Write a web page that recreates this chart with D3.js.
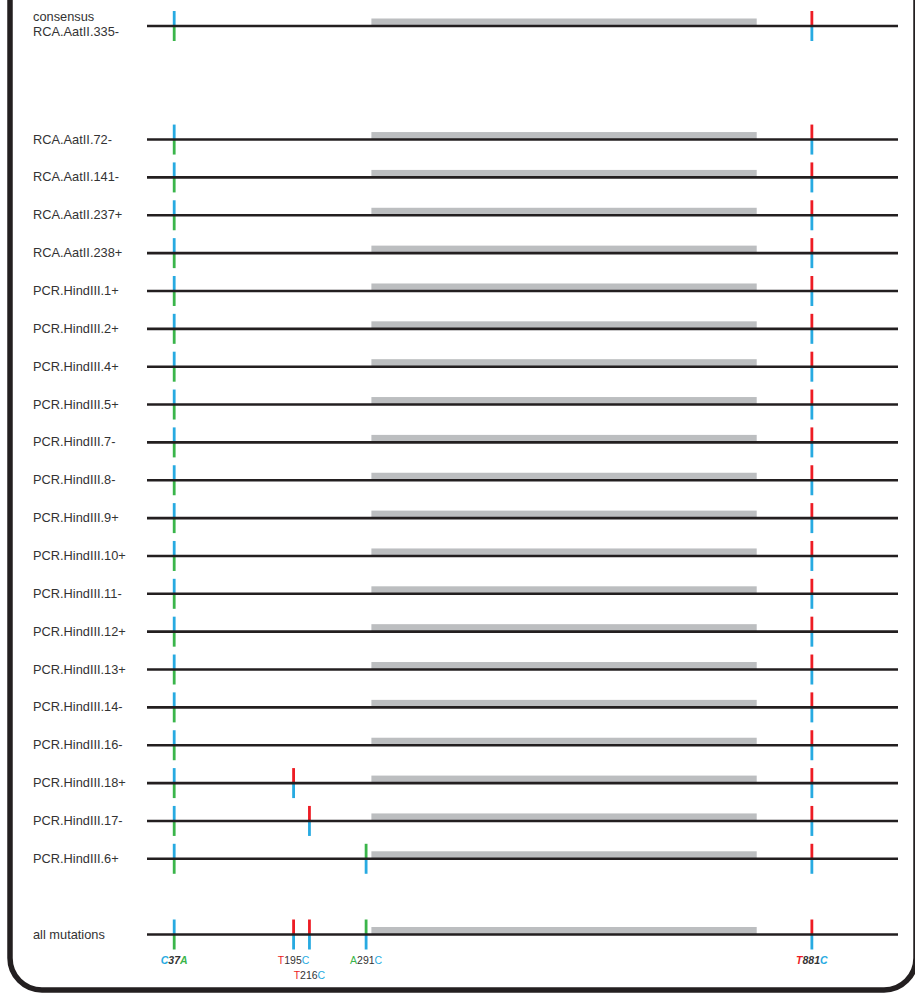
<!DOCTYPE html>
<html>
<head>
<meta charset="utf-8">
<script src="https://cdn.jsdelivr.net/npm/d3@7"></script>
<style>
  html, body { margin: 0; padding: 0; background: #fff; }
  svg { display: block; }
  text { font-family: Helvetica, Arial, "Liberation Sans", sans-serif; }
</style>
</head>
<body>
<svg id="chart" width="915" height="995"></svg>
<script>
// ---------------- data ----------------
const seqRange = [1, 995];                 // sequence coordinates drawn as each line
const featureRange = [298, 808];           // grey feature bar
const consensusLabel = ["consensus", "RCA.AatII.335-"];
const sampleLabels = [
  "RCA.AatII.72-", "RCA.AatII.141-", "RCA.AatII.237+", "RCA.AatII.238+",
  "PCR.HindIII.1+", "PCR.HindIII.2+", "PCR.HindIII.4+", "PCR.HindIII.5+",
  "PCR.HindIII.7-", "PCR.HindIII.8-", "PCR.HindIII.9+", "PCR.HindIII.10+",
  "PCR.HindIII.11-", "PCR.HindIII.12+", "PCR.HindIII.13+", "PCR.HindIII.14-",
  "PCR.HindIII.16-", "PCR.HindIII.18+", "PCR.HindIII.17-", "PCR.HindIII.6+"
];
const summaryLabel = "all mutations";

const mutationPos  = [37, 195, 216, 291, 881];
const mutationFrom = ["C", "T", "T", "A", "T"];
const mutationTo   = ["A", "C", "C", "C", "C"];
const mutationFixed = [true, false, false, false, true];   // shared by every sequence (bold italic)

const consensusMutations = [37, 881];
const sampleMutations = [
  [37, 881], [37, 881], [37, 881], [37, 881],
  [37, 881], [37, 881], [37, 881], [37, 881],
  [37, 881], [37, 881], [37, 881], [37, 881],
  [37, 881], [37, 881], [37, 881], [37, 881],
  [37, 881], [37, 195, 881], [37, 216, 881], [37, 291, 881]
];
const summaryMutations = [37, 195, 216, 291, 881];

const baseNames = ["A", "C", "T"];
const baseColors = ["#3ab54a", "#27aae1", "#ed1c24"];

// ---------------- drawing ----------------
const svg = d3.select("#chart");
const ink = "#231f20";
const baseColor = d3.scaleOrdinal().domain(baseNames).range(baseColors);

// frame
svg.append("rect")
  .attr("x", 10).attr("y", -60)
  .attr("width", 906).attr("height", 1050)
  .attr("rx", 32).attr("ry", 32)
  .attr("fill", "none").attr("stroke", ink).attr("stroke-width", 5.5);

const x = d3.scaleLinear().domain(seqRange).range([147, 898]);

// rows: consensus, gap, samples, gap, summary
const rows = [];
rows.push({ label: consensusLabel, muts: consensusMutations, slot: 0 });
sampleLabels.forEach((l, i) => rows.push({ label: [l], muts: sampleMutations[i], slot: 3 + i }));
rows.push({ label: [summaryLabel], muts: summaryMutations, slot: 3 + sampleLabels.length + 1, summary: true });

const y = d3.scaleLinear().domain([0, 24]).range([26, 934.5]);

const mutIndex = p => mutationPos.indexOf(p);

const g = svg.selectAll("g.row").data(rows).join("g").attr("class", "row")
  .attr("transform", d => `translate(0,${y(d.slot)})`);

// feature bar
g.append("rect")
  .attr("x", x(featureRange[0]))
  .attr("width", x(featureRange[1]) - x(featureRange[0]))
  .attr("y", -7.5).attr("height", 7)
  .attr("fill", "#bcbec0");

// mutation marks
g.each(function (d) {
  const sel = d3.select(this);
  d.muts.forEach(p => {
    const k = mutIndex(p);
    sel.append("line")
      .attr("x1", x(p)).attr("x2", x(p)).attr("y1", -15).attr("y2", 0)
      .attr("stroke", baseColor(mutationFrom[k])).attr("stroke-width", 2.8);
    sel.append("line")
      .attr("x1", x(p)).attr("x2", x(p)).attr("y1", 0).attr("y2", 15)
      .attr("stroke", baseColor(mutationTo[k])).attr("stroke-width", 2.8);
  });
});

// sequence line
g.append("line")
  .attr("x1", x(seqRange[0])).attr("x2", x(seqRange[1]))
  .attr("y1", 0).attr("y2", 0)
  .attr("stroke", ink).attr("stroke-width", 2.6);

// row labels
g.append("text")
  .attr("x", 33)
  .attr("font-size", 12.8)
  .attr("fill", "#333")
  .each(function (d) {
    const t = d3.select(this);
    if (d.label.length === 1) {
      t.append("tspan").attr("x", 33).attr("y", 4).text(d.label[0]);
    } else {
      d.label.forEach((s, i) => t.append("tspan").attr("x", 33).attr("y", -5 + i * 15).text(s));
    }
  });

// mutation labels under summary row
const summaryY = y(rows[rows.length - 1].slot);
let lastX = -1e9;
const labelG = svg.append("g");
mutationPos.forEach((p, k) => {
  const px = x(p);
  const tier = (px - lastX < 30) ? 1 : 0;
  if (tier === 0) lastX = px;
  const t = labelG.append("text")
    .attr("x", px).attr("y", summaryY + 29.5 + tier * 15)
    .attr("text-anchor", "middle")
    .attr("font-size", 10.5)
    .attr("font-weight", mutationFixed[k] ? "bold" : "normal")
    .attr("font-style", mutationFixed[k] ? "italic" : "normal");
  t.append("tspan").attr("fill", baseColor(mutationFrom[k])).text(mutationFrom[k]);
  t.append("tspan").attr("fill", "#333").text(p);
  t.append("tspan").attr("fill", baseColor(mutationTo[k])).text(mutationTo[k]);
});
</script>
</body>
</html>
